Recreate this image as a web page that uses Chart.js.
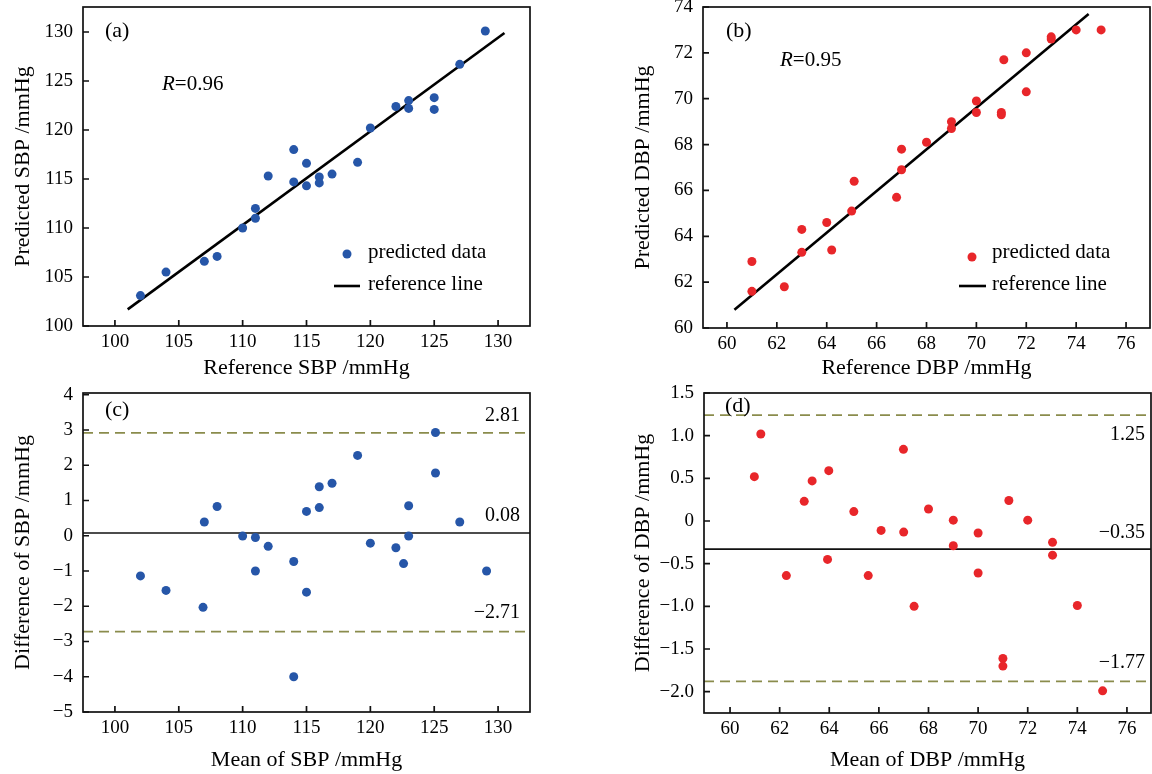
<!DOCTYPE html>
<html><head><meta charset="utf-8">
<script src="https://cdn.jsdelivr.net/npm/chart.js@4.4.1/dist/chart.umd.min.js"></script>
<style>
html,body{margin:0;padding:0;background:#fff;width:1152px;height:774px;overflow:hidden;position:relative}
canvas{position:absolute}
</style></head><body>
<canvas id="pa"></canvas><canvas id="pb"></canvas><canvas id="pc"></canvas><canvas id="pd"></canvas>
<script>
// ---------- data ----------
const sbpReference = [102,104,107,108,110,111,111,112,114,114,115,115,116,116,117,119,120,122,123,123,125,125,127,129];
const sbpPredicted = [103.1,105.5,106.6,107.1,110.0,111.0,112.0,115.3,118.0,114.7,116.6,114.3,115.2,114.6,115.5,116.7,120.2,122.4,123.0,122.2,123.3,122.1,126.7,130.1];
const sbpFitX = [101, 130.5];
const sbpFitY = [101.7, 129.9];

const dbpReference = [61.0,61.0,62.3,63.0,63.0,64.0,64.2,65.0,65.1,66.8,67.0,67.0,68.0,69.0,69.0,70.0,70.0,71.0,71.0,71.1,72.0,72.0,73.0,73.0,74.0,75.0];
const dbpPredicted = [62.9,61.6,61.8,64.3,63.3,64.6,63.4,65.1,66.4,65.7,66.9,67.8,68.1,69.0,68.7,69.9,69.4,69.4,69.3,71.7,70.3,72.0,72.7,72.6,73.0,73.0];
const dbpFitX = [60.3, 74.5];
const dbpFitY = [60.8, 73.7];

const sbpMean = [102.0,104.0,107.0,106.9,108.0,110.0,111.0,111.0,112.0,114.0,114.0,115.0,115.0,116.0,116.0,117.0,119.0,120.0,122.0,122.6,123.0,123.0,125.1,125.1,127.0,129.1];
const sbpDiff = [-1.14,-1.55,0.39,-2.03,0.83,-0.01,-0.05,-1.0,-0.30,-0.73,-4.0,0.69,-1.60,1.39,0.80,1.49,2.28,-0.21,-0.34,-0.79,0.85,-0.01,2.93,1.78,0.39,-1.0];
const sbpLimitValues = [2.92, 0.08, -2.72];
const sbpLimitLabels = ['2.81', '0.08', '\u22122.71'];

const dbpMean = [60.98,61.24,62.27,62.99,63.31,63.98,63.93,64.99,65.57,66.09,66.99,67.0,67.42,68.0,69.0,69.0,70.0,70.0,71.0,71.0,71.24,72.0,73.0,73.0,74.0,75.02];
const dbpDiff = [0.52,1.02,-0.64,0.23,0.47,0.59,-0.45,0.11,-0.64,-0.11,0.84,-0.13,-1.0,0.14,0.01,-0.29,-0.14,-0.61,-1.61,-1.70,0.24,0.01,-0.25,-0.40,-0.99,-1.99];
const dbpLimitValues = [1.24, -0.33, -1.88];
const dbpLimitLabels = ['1.25', '\u22120.35', '\u22121.77'];

const sbpTicks = [100,105,110,115,120,125,130];
const dbpXTicks = [60,62,64,66,68,70,72,74,76];
const dbpYTicks = [60,62,64,66,68,70,72,74];
const sbpDiffTicks = [4,3,2,1,0,-1,-2,-3,-4,-5];
const dbpDiffTicks = [1.5,1.0,0.5,0,-0.5,-1.0,-1.5,-2.0];
const dbpDiffTickLabels = ['1.5','1.0','0.5','0','\u22120.5','\u22121.0','\u22121.5','\u22122.0'];

// ---------- styling ----------
const FONT = '"Liberation Serif", "Times New Roman", serif';
const INK = '#000';
Chart.defaults.font.family = FONT;
Chart.defaults.color = INK;
const BLUE = '#2656a8';
const RED = '#e8262a';
const OLIVE = '#8a8c4c';
const fmt = v => (v < 0 ? '\u2212' : '') + Math.abs(v);

const decor = {
  id: 'decor',
  afterDatasetsDraw(chart, args, o) {
    const {ctx, chartArea: a} = chart;
    const xs = chart.scales.x, ys = chart.scales.y;
    const ox = o.ox, oy = o.oy;
    ctx.save();
    if (o.limits) {
      ctx.font = '20px ' + FONT;
      ctx.fillStyle = INK;
      ctx.textAlign = 'right';
      ctx.textBaseline = 'middle';
      o.limits.values.forEach((v, i) => {
        ctx.fillText(o.limits.labels[i], o.limits.right - ox, ys.getPixelForValue(v) + o.limits.dy[i]);
      });
    }
    ctx.lineWidth = 1.7;
    ctx.strokeStyle = '#111';
    ctx.strokeRect(a.left, a.top, a.right - a.left, a.bottom - a.top);
    ctx.beginPath();
    xs.ticks.forEach(t => { const p = xs.getPixelForValue(t.value); ctx.moveTo(p, a.bottom); ctx.lineTo(p, a.bottom - 6); });
    ys.ticks.forEach(t => { const p = ys.getPixelForValue(t.value); ctx.moveTo(a.left, p); ctx.lineTo(a.left + 6, p); });
    ctx.stroke();
    ctx.textAlign = 'left';
    ctx.textBaseline = 'middle';
    ctx.fillStyle = INK;
    ctx.font = '22px ' + FONT;
    ctx.fillText(o.panel.text, o.panel.x - ox, o.panel.y - oy);
    if (o.r) {
      ctx.font = 'italic 21px ' + FONT;
      ctx.fillText('R', o.r.x - ox, o.r.y - oy);
      const w = ctx.measureText('R').width;
      ctx.font = '21px ' + FONT;
      ctx.fillText(o.r.text, o.r.x - ox + w, o.r.y - oy);
    }
    if (o.legend) {
      const L = o.legend;
      const d0 = chart.data.datasets[0], d1 = chart.data.datasets[1];
      ctx.beginPath();
      ctx.fillStyle = d0.backgroundColor;
      ctx.arc(L.mx - ox, L.my - oy, d0.pointRadius, 0, Math.PI * 2);
      ctx.fill();
      ctx.beginPath();
      ctx.strokeStyle = d1.borderColor;
      ctx.lineWidth = d1.borderWidth;
      ctx.moveTo(L.lx1 - ox, L.ly - oy);
      ctx.lineTo(L.lx2 - ox, L.ly - oy);
      ctx.stroke();
      ctx.fillStyle = INK;
      ctx.font = '21px ' + FONT;
      ctx.fillText(d0.label, L.tx - ox, L.t1y - oy);
      ctx.fillText(d1.label, L.tx - ox, L.t2y - oy);
    }
    ctx.restore();
  }
};

function axis(ax, isX) {
  return {
    type: 'linear',
    position: isX ? 'bottom' : 'left',
    min: ax.min, max: ax.max,
    afterBuildTicks: s => { s.ticks = ax.ticks.map(v => ({value: v})); },
    afterFit: s => { if (isX) s.height = 70; else s.width = 110; },
    grid: {display: false, drawTicks: false},
    border: {display: false},
    ticks: {font: {size: 19}, color: INK, padding: isX ? 5 : 10, maxRotation: 0, autoSkip: false,
      callback: (v, i) => ax.labels[i]},
    title: {display: true, text: ax.title, color: INK, font: {size: 22},
      padding: isX ? {top: 0, bottom: ax.tpad} : {top: ax.tpad, bottom: 0}}
  };
}

function pts(xs, ys) { return xs.map((x, i) => ({x, y: ys[i]})); }

function build(p) {
  const a = p.area;
  const cx = a.L - 110, cy = a.T - 40, cw = a.R - a.L + 150, ch = a.B - a.T + 110;
  const cv = document.getElementById(p.id);
  cv.width = cw; cv.height = ch;
  cv.style.left = cx + 'px'; cv.style.top = cy + 'px';
  cv.style.width = cw + 'px'; cv.style.height = ch + 'px';
  p.decor.ox = cx; p.decor.oy = cy;
  new Chart(cv, {
    type: 'scatter',
    data: {datasets: p.datasets},
    options: {
      responsive: false, animation: false, devicePixelRatio: 1,
      layout: {padding: {left: 0, top: 40, right: 40, bottom: 0}},
      scales: {x: axis(p.x, true), y: axis(p.y, false)},
      plugins: {legend: {display: false}, tooltip: {enabled: false}, decor: p.decor}
    },
    plugins: [decor]
  });
}

function limitSets(values, xmin, xmax) {
  return values.map((v, i) => ({
    label: 'limit', data: [{x: xmin, y: v}, {x: xmax, y: v}], showLine: true, pointRadius: 0,
    borderColor: i === 1 ? '#111' : OLIVE, borderWidth: i === 1 ? 1.6 : 1.8,
    borderDash: i === 1 ? [] : [10, 6]
  }));
}

build({
  id: 'pa', area: {L: 83, T: 7, R: 530, B: 326},
  x: {min: 97.5, max: 132.5, ticks: sbpTicks, labels: sbpTicks.map(fmt), title: 'Reference SBP /mmHg', tpad: 15},
  y: {min: 100, max: 132.55, ticks: sbpTicks, labels: sbpTicks.map(fmt), title: 'Predicted SBP /mmHg', tpad: 37},
  datasets: [
    {label: 'predicted data', data: pts(sbpReference, sbpPredicted), backgroundColor: BLUE, borderColor: BLUE, pointRadius: 4.5, borderWidth: 0},
    {label: 'reference line', data: pts(sbpFitX, sbpFitY), showLine: true, pointRadius: 0, borderColor: '#000', borderWidth: 2.6}
  ],
  decor: {panel: {text: '(a)', x: 105, y: 31}, r: {text: '=0.96', x: 162, y: 84},
    legend: {mx: 347, my: 254, lx1: 334, lx2: 360, ly: 286, tx: 368, t1y: 252, t2y: 284}}
});

build({
  id: 'pb', area: {L: 703, T: 7, R: 1150, B: 328},
  x: {min: 59.04, max: 76.96, ticks: dbpXTicks, labels: dbpXTicks.map(fmt), title: 'Reference DBP /mmHg', tpad: 17},
  y: {min: 60, max: 74, ticks: dbpYTicks, labels: dbpYTicks.map(fmt), title: 'Predicted DBP /mmHg', tpad: 37},
  datasets: [
    {label: 'predicted data', data: pts(dbpReference, dbpPredicted), backgroundColor: RED, borderColor: RED, pointRadius: 4.5, borderWidth: 0},
    {label: 'reference line', data: pts(dbpFitX, dbpFitY), showLine: true, pointRadius: 0, borderColor: '#000', borderWidth: 2.6}
  ],
  decor: {panel: {text: '(b)', x: 726, y: 31}, r: {text: '=0.95', x: 780, y: 60},
    legend: {mx: 972, my: 257, lx1: 959, lx2: 986, ly: 286, tx: 992, t1y: 252, t2y: 284}}
});

build({
  id: 'pc', area: {L: 83, T: 393, R: 530, B: 712},
  x: {min: 97.5, max: 132.5, ticks: sbpTicks, labels: sbpTicks.map(fmt), title: 'Mean of SBP /mmHg', tpad: 9},
  y: {min: -5, max: 4.05, ticks: sbpDiffTicks, labels: sbpDiffTicks.map(fmt), title: 'Difference of SBP /mmHg', tpad: 37},
  datasets: [
    {label: 'difference', data: pts(sbpMean, sbpDiff), backgroundColor: BLUE, borderColor: BLUE, pointRadius: 4.5, borderWidth: 0},
    ...limitSets(sbpLimitValues, 97.5, 132.5)
  ],
  decor: {panel: {text: '(c)', x: 105, y: 410},
    limits: {values: sbpLimitValues, labels: sbpLimitLabels, right: 520, dy: [-17, -17, -19]}}
});

build({
  id: 'pd', area: {L: 704, T: 393, R: 1151, B: 713},
  x: {min: 58.95, max: 76.97, ticks: dbpXTicks, labels: dbpXTicks.map(fmt), title: 'Mean of DBP /mmHg', tpad: 10},
  y: {min: -2.25, max: 1.5, ticks: dbpDiffTicks, labels: dbpDiffTickLabels, title: 'Difference of DBP /mmHg', tpad: 36},
  datasets: [
    {label: 'difference', data: pts(dbpMean, dbpDiff), backgroundColor: RED, borderColor: RED, pointRadius: 4.5, borderWidth: 0},
    ...limitSets(dbpLimitValues, 58.95, 76.97)
  ],
  decor: {panel: {text: '(d)', x: 725, y: 406},
    limits: {values: dbpLimitValues, labels: dbpLimitLabels, right: 1145, dy: [20, -16, -19]}}
});
</script>
</body></html>
